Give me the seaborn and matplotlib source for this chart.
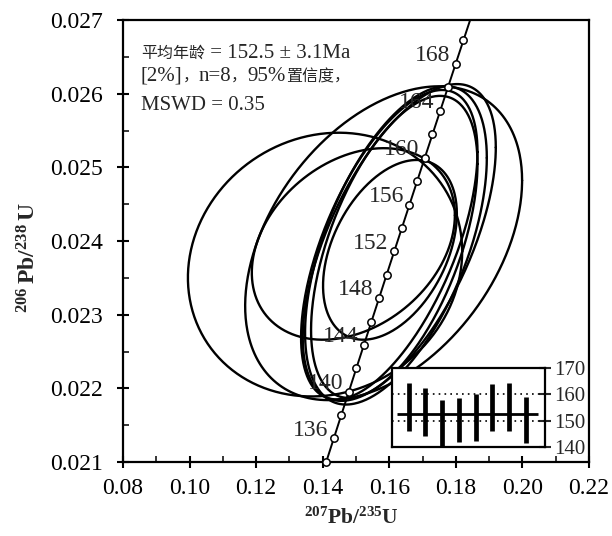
import numpy as np
import pandas as pd
import matplotlib
matplotlib.use('Agg')
import matplotlib.pyplot as plt
import seaborn as sns
from matplotlib.ticker import MultipleLocator, FormatStrFormatter

# ---- data -------------------------------------------------------------
# error ellipses: centre (207Pb/235U, 206Pb/238U), half extents, correlation
ell_x = [0.1407, 0.1583, 0.1492, 0.1602, 0.1620, 0.1600, 0.1615, 0.1630]
ell_y = [0.02368, 0.02397, 0.02396, 0.02388, 0.02394, 0.02395, 0.02392, 0.02398]
ell_a = [0.0412, 0.0416, 0.0305, 0.0201, 0.0273, 0.0265, 0.0250, 0.0290]
ell_b = [0.00179, 0.00213, 0.00130, 0.00122, 0.00216, 0.00210, 0.00205, 0.00215]
ell_rho = [0.10, 0.40, 0.30, 0.40, 0.55, 0.60, 0.55, 0.60]

# concordia ages (Ma)
conc_marker_ages = list(range(134, 171, 2))
conc_label_ages = [136, 140, 144, 148, 152, 156, 160, 164, 168]

# inset weighted-mean plot (age ranges, Ma)
inset_top = [164.2, 162.5, 157.8, 158.7, 160.1, 163.9, 164.4, 158.9]
inset_bot = [146.2, 144.3, 139.9, 141.8, 142.3, 146.2, 146.2, 141.6]
inset_mean = 152.5
inset_ticks = [140, 150, 160, 170]

x_ticks = [0.08, 0.10, 0.12, 0.14, 0.16, 0.18, 0.20, 0.22]
y_ticks = [0.021, 0.022, 0.023, 0.024, 0.025, 0.026, 0.027]

# info text, split into (text, is_cjk) pieces per line
info_line1 = [("平均年龄", True), (" = 152.5 ± 3.1Ma", False)]
info_line2 = [("[2%]", False), ("，", True), ("n=8", False), ("，", True),
              ("95%", False), ("置信度，", True)]
info_line3 = [("MSWD = 0.35", False)]

# ---- style ------------------------------------------------------------
sns.set_theme(style='white')
fam = ['Liberation Serif', 'Noto Sans CJK SC', 'DejaVu Sans']
cjk_fam = ['Noto Sans CJK SC', 'DejaVu Sans']
plt.rcParams['font.family'] = fam
plt.rcParams['mathtext.fontset'] = 'custom'
plt.rcParams['mathtext.rm'] = 'Liberation Serif'
plt.rcParams['mathtext.bf'] = 'Liberation Serif:bold'

lam238 = 1.55125e-10
lam235 = 9.8485e-10

W, H = 612, 536
fig = plt.figure(figsize=(W/100, H/100), dpi=100)
ax = fig.add_axes([123/W, 1-462/H, 466/W, 442/H])

# ellipses
th = np.linspace(0, 2*np.pi, 400)
for i in range(len(ell_x)):
    r = ell_rho[i]
    ex = ell_x[i] + ell_a[i]*np.cos(th)
    ey = ell_y[i] + ell_b[i]*(r*np.cos(th) + np.sqrt(1-r*r)*np.sin(th))
    sns.lineplot(x=ex, y=ey, sort=False, estimator=None, color='black',
                 lw=1.7, ax=ax, zorder=2)

# concordia
tt = np.linspace(133.5e6, 173e6, 300)
cx = np.exp(lam235*tt) - 1
cy = np.exp(lam238*tt) - 1
sns.lineplot(x=cx, y=cy, sort=False, estimator=None, color='black', lw=1.4,
             ax=ax, zorder=3)
ma = np.array(conc_marker_ages)*1e6
sns.scatterplot(x=np.exp(lam235*ma)-1, y=np.exp(lam238*ma)-1, s=28,
                facecolor='white', edgecolor='black', linewidth=1.1,
                ax=ax, zorder=4, clip_on=False)
for age in conc_label_ages:
    px = np.exp(lam235*age*1e6)-1
    py = np.exp(lam238*age*1e6)-1
    ax.annotate(str(age), (px, py), xytext=(-4, 6), textcoords='offset points',
                ha='right', va='center', fontsize=17, family=fam, zorder=5)

ax.set_xlim(0.08, 0.22)
ax.set_ylim(0.021, 0.027)
ax.set_xticks(x_ticks)
ax.set_yticks(y_ticks)
ax.xaxis.set_major_formatter(FormatStrFormatter('%.2f'))
ax.yaxis.set_major_formatter(FormatStrFormatter('%.3f'))
ax.xaxis.set_minor_locator(MultipleLocator(0.01))
ax.yaxis.set_minor_locator(MultipleLocator(0.0005))
ax.tick_params(which='major', direction='inout', length=9, width=1.5,
               labelsize=17, colors='black', bottom=True, left=True)
ax.tick_params(which='minor', direction='in', length=4, width=1.3,
               bottom=True, left=True)
ax.tick_params(axis='x', which='major', pad=7)
ax.tick_params(axis='y', which='major', pad=10)
for sp in ax.spines.values():
    sp.set_color('black')
    sp.set_linewidth(1.6)

ax.set_xlabel(r'$\mathbf{^{207}Pb/^{235}U}$', fontsize=15.5)
ax.xaxis.set_label_coords(0.49, -0.104)
ax.xaxis.label.set_va('top')
ax.set_ylabel(r'$\mathbf{^{206}\,Pb/^{238}\,U}$', fontsize=17)
ax.yaxis.set_label_coords(-0.178, 0.462)

# info text drawn piece by piece so CJK and Latin can differ in size
renderer = fig.canvas.get_renderer()
def draw_line(pieces, x_px, base_px):
    x = x_px
    for txt, is_cjk in pieces:
        t = fig.text(x/W, 1-base_px/H, txt, fontsize=11.5 if is_cjk else 15,
                     family=cjk_fam if is_cjk else fam, ha='left',
                     va='baseline', zorder=6)
        x += t.get_window_extent(renderer).width

draw_line(info_line1, 141, 58)
draw_line(info_line2, 141, 81)
draw_line(info_line3, 141, 110)

# inset
ins = fig.add_axes([392/W, 1-447/H, 153/W, 79/H])
pos = np.arange(1, len(inset_top)+1)
ins.vlines(pos, inset_bot, inset_top, color='black', lw=3.4)
for g in (150, 160):
    ins.axhline(g, color='black', lw=1.2, ls=(0, (1, 2.5)))
ins.hlines(inset_mean, 0.3, 8.75, color='black', lw=2)
ins.set_xlim(0, 9.15)
ins.set_ylim(140, 170)
ins.set_xticks([])
ins.set_yticks(inset_ticks)
ins.yaxis.tick_right()
ins.tick_params(axis='y', direction='inout', length=9, width=1.5,
                labelsize=15, right=True, left=False, pad=2)
for sp in ins.spines.values():
    sp.set_color('black')
    sp.set_linewidth(1.6)
ins.set_facecolor('white')

fig.savefig('out.png', dpi=100, facecolor='white')
